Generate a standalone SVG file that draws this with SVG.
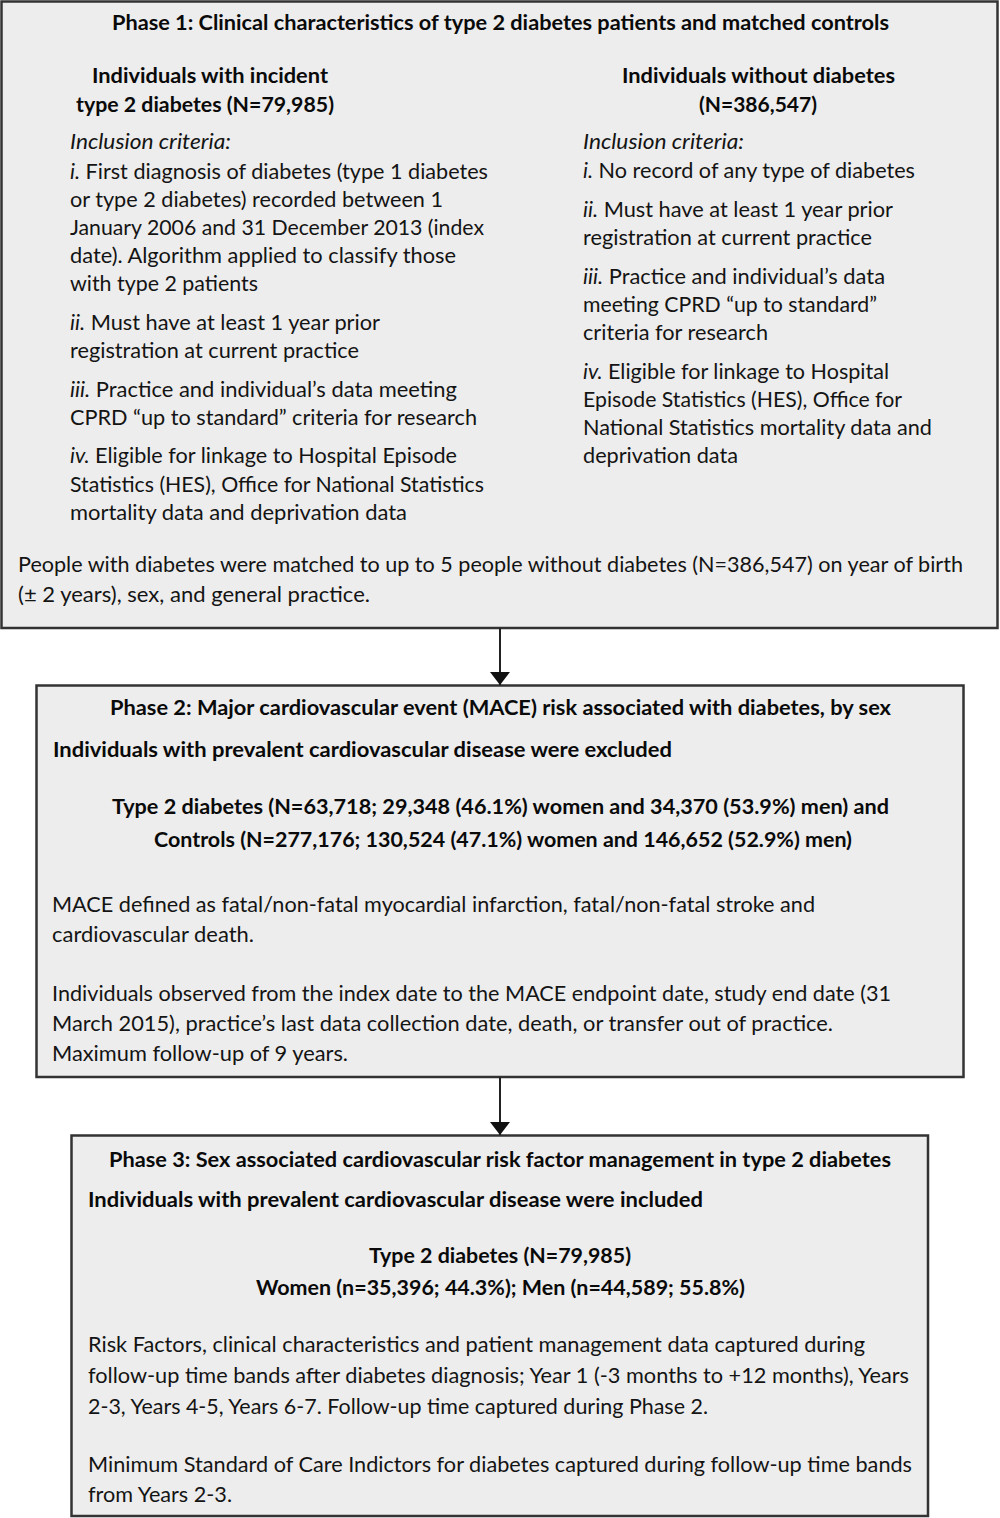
<svg xmlns="http://www.w3.org/2000/svg" width="1000" height="1518" viewBox="0 0 1000 1518">
  <style>
    .box { fill: #ededed; stroke: #333333; stroke-width: 2.5; }
    text { font-family: Lato, "Open Sans", "Liberation Sans", sans-serif; font-size: 21px; fill: #141414; }
    .b { font-weight: 700; fill: #0a0a0a; }
    .i { font-style: italic; }
    .conn line { stroke: #222222; stroke-width: 2; }
  </style>
  <defs>
    <marker id="arrowhead" viewBox="0 0 13 20" refX="13" refY="10" markerWidth="13" markerHeight="20" markerUnits="userSpaceOnUse" orient="auto">
      <path d="M0,0 L13,10 L0,20 z" fill="#111111"/>
    </marker>
  </defs>

  <rect width="1000" height="1518" fill="#ffffff"/>

  <!-- Phase 1 -->
  <g id="phase1">
    <rect class="box" x="1.5" y="1.5" width="996" height="626.5"/>
    <text class="b" x="112" y="30" textLength="777" lengthAdjust="spacingAndGlyphs">Phase 1: Clinical characteristics of type 2 diabetes patients and matched controls</text>

    <!-- left column: incident cases -->
    <text class="b" x="92" y="83" textLength="236" lengthAdjust="spacingAndGlyphs">Individuals with incident</text>
    <text class="b" x="76" y="112" textLength="258" lengthAdjust="spacingAndGlyphs">type 2 diabetes (N=79,985)</text>
    <text class="i" x="70" y="149" textLength="161" lengthAdjust="spacingAndGlyphs">Inclusion criteria:</text>
    <text x="70" y="179" textLength="418" lengthAdjust="spacingAndGlyphs"><tspan class="i">i.</tspan> First diagnosis of diabetes (type 1 diabetes</text>
    <text x="70" y="207" textLength="373" lengthAdjust="spacingAndGlyphs">or type 2 diabetes) recorded between 1</text>
    <text x="70" y="235" textLength="414" lengthAdjust="spacingAndGlyphs">January 2006 and 31 December 2013 (index</text>
    <text x="70" y="263" textLength="386" lengthAdjust="spacingAndGlyphs">date). Algorithm applied to classify those</text>
    <text x="70" y="291" textLength="188" lengthAdjust="spacingAndGlyphs">with type 2 patients</text>
    <text x="70" y="330" textLength="310" lengthAdjust="spacingAndGlyphs"><tspan class="i">ii.</tspan> Must have at least 1 year prior</text>
    <text x="70" y="358" textLength="289" lengthAdjust="spacingAndGlyphs">registration at current practice</text>
    <text x="70" y="397" textLength="387" lengthAdjust="spacingAndGlyphs"><tspan class="i">iii.</tspan> Practice and individual’s data meeting</text>
    <text x="70" y="425" textLength="407" lengthAdjust="spacingAndGlyphs">CPRD “up to standard” criteria for research</text>
    <text x="70" y="463" textLength="387" lengthAdjust="spacingAndGlyphs"><tspan class="i">iv.</tspan> Eligible for linkage to Hospital Episode</text>
    <text x="70" y="492" textLength="414" lengthAdjust="spacingAndGlyphs">Statistics (HES), Office for National Statistics</text>
    <text x="70" y="520" textLength="337" lengthAdjust="spacingAndGlyphs">mortality data and deprivation data</text>

    <!-- right column: controls -->
    <text class="b" x="622" y="83" textLength="273" lengthAdjust="spacingAndGlyphs">Individuals without diabetes</text>
    <text class="b" x="699" y="112" textLength="118" lengthAdjust="spacingAndGlyphs">(N=386,547)</text>
    <text class="i" x="583" y="149" textLength="161" lengthAdjust="spacingAndGlyphs">Inclusion criteria:</text>
    <text x="583" y="178" textLength="332" lengthAdjust="spacingAndGlyphs"><tspan class="i">i.</tspan> No record of any type of diabetes</text>
    <text x="583" y="217" textLength="310" lengthAdjust="spacingAndGlyphs"><tspan class="i">ii.</tspan> Must have at least 1 year prior</text>
    <text x="583" y="245" textLength="289" lengthAdjust="spacingAndGlyphs">registration at current practice</text>
    <text x="583" y="284" textLength="302" lengthAdjust="spacingAndGlyphs"><tspan class="i">iii.</tspan> Practice and individual’s data</text>
    <text x="583" y="312" textLength="294" lengthAdjust="spacingAndGlyphs">meeting CPRD “up to standard”</text>
    <text x="583" y="340" textLength="185" lengthAdjust="spacingAndGlyphs">criteria for research</text>
    <text x="583" y="379" textLength="306" lengthAdjust="spacingAndGlyphs"><tspan class="i">iv.</tspan> Eligible for linkage to Hospital</text>
    <text x="583" y="407" textLength="319" lengthAdjust="spacingAndGlyphs">Episode Statistics (HES), Office for</text>
    <text x="583" y="435" textLength="349" lengthAdjust="spacingAndGlyphs">National Statistics mortality data and</text>
    <text x="583" y="463" textLength="155" lengthAdjust="spacingAndGlyphs">deprivation data</text>

    <!-- matching note -->
    <text x="18" y="572" textLength="945" lengthAdjust="spacingAndGlyphs">People with diabetes were matched to up to 5 people without diabetes (N=386,547) on year of birth</text>
    <text x="18" y="602" textLength="352" lengthAdjust="spacingAndGlyphs">(± 2 years), sex, and general practice.</text>
  </g>

  <!-- Phase 2 -->
  <g id="phase2">
    <rect class="box" x="36.5" y="685.5" width="927" height="391.5"/>
    <text class="b" x="110" y="715" textLength="781" lengthAdjust="spacingAndGlyphs">Phase 2: Major cardiovascular event (MACE) risk associated with diabetes, by sex</text>
    <text class="b" x="53" y="757" textLength="619" lengthAdjust="spacingAndGlyphs">Individuals with prevalent cardiovascular disease were excluded</text>
    <text class="b" x="112" y="814" textLength="777" lengthAdjust="spacingAndGlyphs">Type 2 diabetes (N=63,718; 29,348 (46.1%) women and 34,370 (53.9%) men) and</text>
    <text class="b" x="154" y="847" textLength="698" lengthAdjust="spacingAndGlyphs">Controls (N=277,176; 130,524 (47.1%) women and 146,652 (52.9%) men)</text>
    <text x="52" y="912" textLength="763" lengthAdjust="spacingAndGlyphs">MACE defined as fatal/non-fatal myocardial infarction, fatal/non-fatal stroke and</text>
    <text x="52" y="942" textLength="202" lengthAdjust="spacingAndGlyphs">cardiovascular death.</text>
    <text x="52" y="1001" textLength="839" lengthAdjust="spacingAndGlyphs">Individuals observed from the index date to the MACE endpoint date, study end date (31</text>
    <text x="52" y="1031" textLength="781" lengthAdjust="spacingAndGlyphs">March 2015), practice’s last data collection date, death, or transfer out of practice.</text>
    <text x="52" y="1061" textLength="296" lengthAdjust="spacingAndGlyphs">Maximum follow-up of 9 years.</text>
  </g>

  <!-- Phase 3 -->
  <g id="phase3">
    <rect class="box" x="71.5" y="1135.5" width="856.5" height="380.5"/>
    <text class="b" x="109" y="1167" textLength="782" lengthAdjust="spacingAndGlyphs">Phase 3: Sex associated cardiovascular risk factor management in type 2 diabetes</text>
    <text class="b" x="88" y="1207" textLength="615" lengthAdjust="spacingAndGlyphs">Individuals with prevalent cardiovascular disease were included</text>
    <text class="b" x="369" y="1263" textLength="262" lengthAdjust="spacingAndGlyphs">Type 2 diabetes (N=79,985)</text>
    <text class="b" x="256" y="1295" textLength="489" lengthAdjust="spacingAndGlyphs">Women (n=35,396; 44.3%); Men (n=44,589; 55.8%)</text>
    <text x="88" y="1352" textLength="777" lengthAdjust="spacingAndGlyphs">Risk Factors, clinical characteristics and patient management data captured during</text>
    <text x="88" y="1383" textLength="821" lengthAdjust="spacingAndGlyphs">follow-up time bands after diabetes diagnosis; Year 1 (-3 months to +12 months), Years</text>
    <text x="88" y="1414" textLength="620" lengthAdjust="spacingAndGlyphs">2-3, Years 4-5, Years 6-7. Follow-up time captured during Phase 2.</text>
    <text x="88" y="1472" textLength="824" lengthAdjust="spacingAndGlyphs">Minimum Standard of Care Indictors for diabetes captured during follow-up time bands</text>
    <text x="88" y="1502" textLength="144" lengthAdjust="spacingAndGlyphs">from Years 2-3.</text>
  </g>

  <!-- connectors -->
  <g id="connectors" class="conn">
    <line x1="500" y1="628" x2="500" y2="685" marker-end="url(#arrowhead)"/>
    <line x1="500" y1="1077" x2="500" y2="1135" marker-end="url(#arrowhead)"/>
  </g>
</svg>
